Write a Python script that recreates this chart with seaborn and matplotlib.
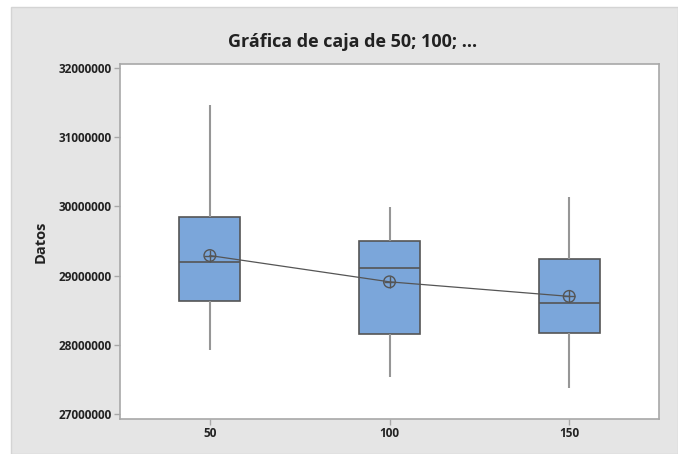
import numpy as np
import pandas as pd
import matplotlib
matplotlib.use("Agg")
import matplotlib.pyplot as plt
from matplotlib.patches import Rectangle
import seaborn as sns

# ---- data ----
categories = ["50", "100", "150"]
whisker_low = [27930000, 27530000, 27380000]
q1 = [28630000, 28160000, 28170000]
median = [29200000, 29110000, 28610000]
q3 = [29850000, 29500000, 29240000]
whisker_high = [31470000, 29990000, 30140000]
means = [29290000, 28910000, 28700000]
y_ticks = [27000000, 28000000, 29000000, 30000000, 31000000, 32000000]

title = "Gráfica de caja de 50; 100; ..."
ylabel = "Datos"

rows = []
for i, c in enumerate(categories):
    for v in (whisker_low[i], q1[i], median[i], q3[i], whisker_high[i]):
        rows.append({"grupo": c, "Datos": v})
df = pd.DataFrame(rows)
mean_df = pd.DataFrame({"grupo": categories, "media": means})

sns.set_theme(style="white")
plt.rcParams["font.family"] = ["Open Sans", "DejaVu Sans"]

fig = plt.figure(figsize=(6.78, 4.54), dpi=100)
fig.patch.set_facecolor("white")
fig.patches.append(Rectangle((11 / 678, 0), 1 - 11 / 678, 1 - 7 / 454,
                             transform=fig.transFigure, facecolor="#E5E5E5",
                             edgecolor="#D4D4D4", linewidth=1, zorder=-10))

ax = fig.add_axes([120 / 678, 1 - 419 / 454, (659 - 120) / 678, (419 - 64) / 454])
ax.set_facecolor("white")

edge = "#555555"
sns.boxplot(data=df, x="grupo", y="Datos", order=categories, ax=ax,
            width=0.34, whis=(0, 100), color="#7BA6DA", saturation=1,
            linecolor=edge, linewidth=1.2, showfliers=False,
            boxprops=dict(facecolor="#7BA6DA", edgecolor=edge, linewidth=1.2),
            medianprops=dict(color=edge, linewidth=1.2),
            whiskerprops=dict(color="#969696", linewidth=1.5),
            capprops=dict(linewidth=0))

sns.lineplot(data=mean_df, x="grupo", y="media", ax=ax, color="#555555",
             linewidth=0.9, sort=False, zorder=5)
sns.scatterplot(data=mean_df, x="grupo", y="media", ax=ax, s=70, marker="o",
                facecolor="none", edgecolor="#555555", linewidth=1.0, zorder=6)
sns.scatterplot(data=mean_df, x="grupo", y="media", ax=ax, s=70, marker="+",
                color="#555555", linewidth=1.0, zorder=6)

ax.set_xlim(-0.5, 2.5)
ax.set_ylim(26928000, 32058000)
ax.set_yticks(y_ticks)
ax.set_yticklabels([str(t) for t in y_ticks])
ax.set_xlabel("")
ax.set_ylabel(ylabel, fontsize=10.5, fontweight="bold", labelpad=8, color="#222222")

for s in ax.spines.values():
    s.set_visible(True)
    s.set_color("#A8A8A8")
    s.set_linewidth(1.2)
ax.tick_params(axis="both", direction="out", length=4, width=1, color="#A8A8A8",
               labelsize=8.5, labelcolor="#222222", pad=2, left=True, bottom=True)
for lab in ax.get_xticklabels() + ax.get_yticklabels():
    lab.set_fontweight("bold")

fig.text(353 / 678, 1 - 42 / 454, title, ha="center", va="center",
         fontsize=13, fontweight="bold", color="#222222")

fig.savefig("out.png", dpi=100)
